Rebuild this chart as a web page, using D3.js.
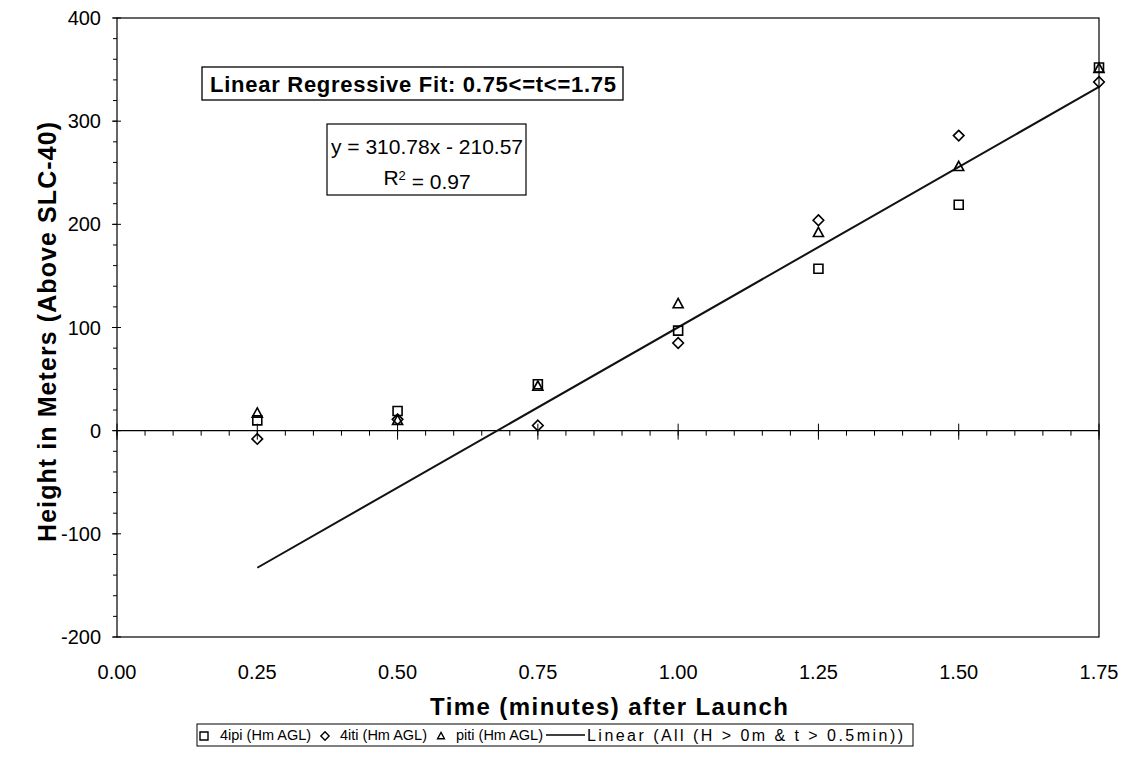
<!DOCTYPE html>
<html><head><meta charset="utf-8">
<script src="https://cdn.jsdelivr.net/npm/d3@7"></script>
<style>body{margin:0;background:#fff;} svg{display:block;font-family:"Liberation Sans",Arial,sans-serif;}</style>
</head><body>
<svg id="chart" width="1127" height="761"></svg>
<script>
const times = [0.25, 0.50, 0.75, 1.00, 1.25, 1.50, 1.75];
const ipi4 = [10, 19, 45, 97, 157, 219, 352];
const iti4 = [-8, 11, 5, 85, 204, 286, 338];
const piti = [17, 10, 43, 123, 192, 256, 351];
const fitSlope = 310.78, fitIntercept = -210.57;
const fitRange = [0.25, 1.75];
const xTicks = [0, 0.25, 0.5, 0.75, 1.0, 1.25, 1.5, 1.75];
const yTicks = [-200, -100, 0, 100, 200, 300, 400];
const seriesNames = ["4ipi (Hm AGL)", "4iti (Hm AGL)", "piti (Hm AGL)"];
const fitName = "Linear (All  (H > 0m & t > 0.5min))";

const svg = d3.select("#chart");
const L = 117, R = 1099, T = 18, B = 637;
const x = d3.scaleLinear().domain([0, 1.75]).range([L, R]);
const y = d3.scaleLinear().domain([-200, 400]).range([B, T]);

// plot border
svg.append("rect").attr("x", L).attr("y", T).attr("width", R - L).attr("height", B - T)
  .attr("fill", "none").attr("stroke", "#000").attr("stroke-width", 1.2);

// Y axis ticks
const yMinor = d3.range(-200, 401, 20);
svg.append("g").selectAll("line").data(yMinor).join("line")
  .attr("x1", L - 4).attr("x2", L).attr("y1", d => y(d)).attr("y2", d => y(d))
  .attr("stroke", "#000").attr("stroke-width", 1);
svg.append("g").selectAll("line").data(yTicks).join("line")
  .attr("x1", L - 5).attr("x2", L + 4).attr("y1", d => y(d)).attr("y2", d => y(d))
  .attr("stroke", "#000").attr("stroke-width", 1);
svg.append("g").selectAll("text").data(yTicks).join("text")
  .attr("x", L - 16).attr("y", d => y(d)).attr("dy", "0.35em")
  .attr("text-anchor", "end").attr("font-size", 20).text(d => d);

// X axis at zero
svg.append("line").attr("x1", L).attr("x2", R).attr("y1", y(0)).attr("y2", y(0))
  .attr("stroke", "#000").attr("stroke-width", 1.3);
const xMinor = d3.range(0, 1.7501, 0.05);
svg.append("g").selectAll("line").data(xMinor).join("line")
  .attr("x1", d => x(d)).attr("x2", d => x(d)).attr("y1", y(0)).attr("y2", y(0) + 5)
  .attr("stroke", "#000").attr("stroke-width", 1);
svg.append("g").selectAll("line").data(xTicks).join("line")
  .attr("x1", d => x(d)).attr("x2", d => x(d)).attr("y1", y(0) - 7).attr("y2", y(0) + 9)
  .attr("stroke", "#000").attr("stroke-width", 1);
svg.append("g").selectAll("text").data(xTicks).join("text")
  .attr("x", d => x(d)).attr("y", 672).attr("dy", "0.35em")
  .attr("text-anchor", "middle").attr("font-size", 20).text(d => d3.format(".2f")(d));

// Trend line
svg.append("line")
  .attr("x1", x(fitRange[0])).attr("y1", y(fitSlope * fitRange[0] + fitIntercept))
  .attr("x2", x(fitRange[1])).attr("y2", y(fitSlope * fitRange[1] + fitIntercept))
  .attr("stroke", "#111").attr("stroke-width", 2);

// marker shapes
function shape(kind, r) {
  const p = d3.path();
  if (kind === 0) { p.rect(-r, -r, 2 * r, 2 * r); }
  else if (kind === 1) { p.moveTo(0, -r * 1.15); p.lineTo(r * 1.15, 0); p.lineTo(0, r * 1.15); p.lineTo(-r * 1.15, 0); p.closePath(); }
  else { p.moveTo(0, -r); p.lineTo(r * 0.95, r * 0.75); p.lineTo(-r * 0.95, r * 0.75); p.closePath(); }
  return p.toString();
}
const markerR = [4.5, 4.6, 5.3];
[ipi4, iti4, piti].forEach((vals, i) => {
  svg.append("g").selectAll("path").data(vals).join("path")
    .attr("transform", (d, j) => `translate(${x(times[j])},${y(d)})`)
    .attr("d", shape(i, markerR[i]))
    .attr("fill", "none").attr("stroke", "#000").attr("stroke-width", 1.6);
});

// Axis titles
svg.append("text").attr("transform", `translate(47,${332}) rotate(-90)`)
  .attr("text-anchor", "middle").attr("dy", "0.35em").attr("font-weight", "bold").attr("font-size", 25)
  .attr("textLength", 420).attr("lengthAdjust", "spacing")
  .text("Height in Meters (Above SLC-40)");
svg.append("text").attr("x", 609).attr("y", 707).attr("dy", "0.35em")
  .attr("text-anchor", "middle").attr("font-weight", "bold").attr("font-size", 24)
  .attr("textLength", 358).attr("lengthAdjust", "spacing")
  .text("Time (minutes) after Launch");

// Annotation boxes
const g1 = svg.append("g");
g1.append("rect").attr("x", 202).attr("y", 67).attr("width", 421).attr("height", 33)
  .attr("fill", "#fff").attr("stroke", "#000").attr("stroke-width", 1.3);
g1.append("text").attr("x", 413).attr("y", 84).attr("dy", "0.35em").attr("text-anchor", "middle")
  .attr("font-weight", "bold").attr("font-size", 22)
  .attr("textLength", 406).attr("lengthAdjust", "spacing")
  .text("Linear Regressive Fit: 0.75<=t<=1.75");

const g2 = svg.append("g");
g2.append("rect").attr("x", 327).attr("y", 124).attr("width", 199).attr("height", 71)
  .attr("fill", "#fff").attr("stroke", "#000").attr("stroke-width", 1.2);
g2.append("text").attr("x", 427).attr("y", 147).attr("dy", "0.35em").attr("text-anchor", "middle")
  .attr("font-size", 21).text(`y = ${fitSlope}x - ${Math.abs(fitIntercept)}`);
const r2 = g2.append("text").attr("x", 427).attr("y", 178).attr("dy", "0.35em").attr("text-anchor", "middle")
  .attr("font-size", 21);
r2.append("tspan").text("R");
r2.append("tspan").attr("dy", "-0.45em").attr("font-size", 13).text("2");
r2.append("tspan").attr("dy", "0.45em").text(" = 0.97");

// Legend
const lg = svg.append("g");
lg.append("rect").attr("x", 197).attr("y", 724).attr("width", 716).attr("height", 22)
  .attr("fill", "#fff").attr("stroke", "#000").attr("stroke-width", 1);
const markerX = [204, 325, 441];
const textX = [220, 340, 456];
seriesNames.forEach((n, i) => {
  lg.append("path").attr("transform", `translate(${markerX[i]},736)`)
    .attr("d", shape(i, i === 0 ? 4 : 3.6))
    .attr("fill", "none").attr("stroke", "#000").attr("stroke-width", 1.4);
  lg.append("text").attr("x", textX[i]).attr("y", 735).attr("dy", "0.35em")
    .attr("font-size", 14.5).text(n);
});
lg.append("line").attr("x1", 546).attr("x2", 585).attr("y1", 735).attr("y2", 735)
  .attr("stroke", "#000").attr("stroke-width", 1.5);
lg.append("text").attr("x", 587).attr("y", 735).attr("dy", "0.35em")
  .attr("font-size", 16).attr("textLength", 316).attr("lengthAdjust", "spacing").text(fitName);
</script>
</body></html>
